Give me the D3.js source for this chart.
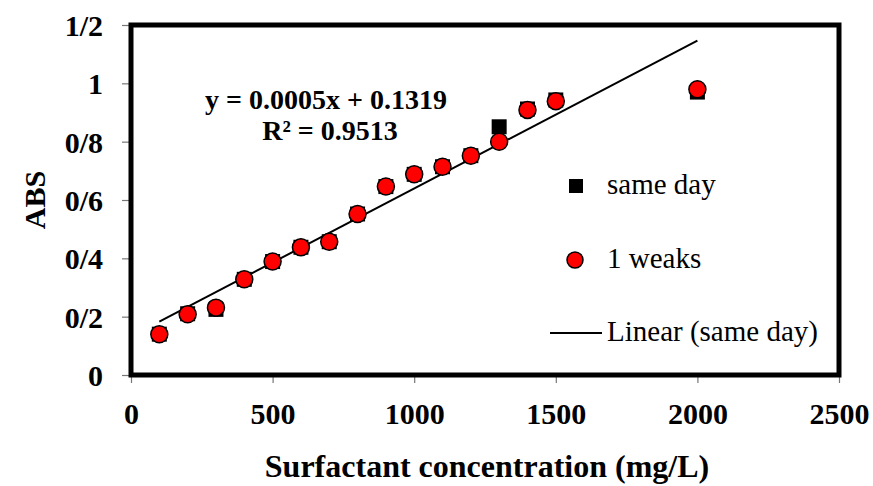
<!DOCTYPE html>
<html>
<head>
<meta charset="utf-8">
<script src="https://cdn.jsdelivr.net/npm/d3@7"></script>
<style>
  body { margin: 0; background: #fff; }
  svg { display: block; font-family: "Times New Roman", "Liberation Serif", serif; }
</style>
</head>
<body>
<div id="chart"></div>
<script>
// concentrations (mg/L)
const concentrations = [100, 200, 300, 400, 500, 600, 700, 800, 900, 1000, 1100, 1200, 1300, 1400, 1500, 2000];
// absorbance, measured the same day
const sameDay = [0.14, 0.21, 0.225, 0.328, 0.389, 0.438, 0.457, 0.552, 0.646, 0.688, 0.714, 0.752, 0.851, 0.912, 0.943, 0.97];
// absorbance, after 1 week
const oneWeek = [0.14, 0.208, 0.231, 0.328, 0.389, 0.438, 0.457, 0.552, 0.646, 0.688, 0.714, 0.752, 0.80, 0.909, 0.939, 0.98];

const xTicks = [0, 500, 1000, 1500, 2000, 2500];
const yTicks = [0, 0.2, 0.4, 0.6, 0.8, 1, 1.2];
const yTickLabels = ["0", "0/2", "0/4", "0/6", "0/8", "1", "1/2"];

const equationLines = ["y = 0.0005x + 0.1319", "R\u00b2 = 0.9513"];
const legendLabels = ["same day", "1 weaks", "Linear (same day)"];

const width = 873;
const height = 486;

function linearFit(xs, ys) {
  const mx = d3.mean(xs);
  const my = d3.mean(ys);
  let sxy = 0, sxx = 0;
  xs.forEach((x, i) => {
    sxy += (x - mx) * (ys[i] - my);
    sxx += (x - mx) * (x - mx);
  });
  const slope = sxy / sxx;
  return { slope, intercept: my - slope * mx };
}

function createChart() {
  const svg = d3
    .select("#chart")
    .append("svg")
    .attr("width", width)
    .attr("height", height);

  const plot = { left: 131, right: 839, top: 25, bottom: 375 };

  const xScale = d3.scaleLinear().domain([0, 2500]).range([plot.left, plot.right]);
  const yScale = d3.scaleLinear().domain([0, 1.2]).range([plot.bottom, plot.top]);

  // axes (ticks only, frame drawn below)
  const xAxis = svg
    .append("g")
    .attr("transform", `translate(0, ${plot.bottom})`)
    .call(
      d3.axisBottom(xScale)
        .tickValues(xTicks)
        .tickSize(8)
        .tickPadding(20)
        .tickFormat(d3.format("d"))
    );

  const yAxis = svg
    .append("g")
    .attr("transform", `translate(${plot.left}, 0)`)
    .call(
      d3.axisLeft(yScale)
        .tickValues(yTicks)
        .tickSize(9)
        .tickPadding(19)
        .tickFormat((d, i) => yTickLabels[i])
    );

  [xAxis, yAxis].forEach((ax) => {
    ax.select(".domain").remove();
    ax.selectAll(".tick line").attr("stroke", "#777").attr("stroke-width", 1.2);
    ax.selectAll(".tick text")
      .attr("fill", "#000")
      .style("font-size", "30px")
      .style("font-weight", "bold")
      .style("font-family", "'Times New Roman', 'Liberation Serif', serif");
  });
  yAxis.selectAll(".tick text").attr("dy", "0.35em");
  xAxis.selectAll(".tick text").attr("dy", "0.71em");

  // plot frame
  svg
    .append("rect")
    .attr("x", plot.left)
    .attr("y", plot.top)
    .attr("width", plot.right - plot.left)
    .attr("height", plot.bottom - plot.top)
    .attr("fill", "none")
    .attr("stroke", "#000")
    .attr("stroke-width", 5);

  // trendline from the same-day series
  const fit = linearFit(concentrations, sameDay);
  const xExtent = d3.extent(concentrations);
  svg
    .append("line")
    .attr("x1", xScale(xExtent[0]))
    .attr("y1", yScale(fit.intercept + fit.slope * xExtent[0]))
    .attr("x2", xScale(xExtent[1]))
    .attr("y2", yScale(fit.intercept + fit.slope * xExtent[1]))
    .attr("stroke", "#000")
    .attr("stroke-width", 2);

  const sq = 15;
  svg
    .append("g")
    .selectAll("rect")
    .data(concentrations)
    .join("rect")
    .attr("x", (d) => xScale(d) - sq / 2)
    .attr("y", (d, i) => yScale(sameDay[i]) - sq / 2)
    .attr("width", sq)
    .attr("height", sq)
    .attr("fill", "#000");

  svg
    .append("g")
    .selectAll("circle")
    .data(concentrations)
    .join("circle")
    .attr("cx", (d) => xScale(d))
    .attr("cy", (d, i) => yScale(oneWeek[i]))
    .attr("r", 8.5)
    .attr("fill", "#ff0000")
    .attr("stroke", "#000")
    .attr("stroke-width", 1.5);

  // trendline equation
  svg
    .append("g")
    .selectAll("text")
    .data(equationLines)
    .join("text")
    .attr("x", (d, i) => (i === 0 ? 326 : 330))
    .attr("y", (d, i) => 108.5 + i * 31)
    .attr("text-anchor", "middle")
    .style("font-size", "28px")
    .style("font-weight", "bold")
    .text((d) => d);

  // legend
  const legend = svg.append("g");
  const legendY = [186, 260, 333];
  legend
    .append("rect")
    .attr("x", 576 - 7)
    .attr("y", legendY[0] - 7)
    .attr("width", 14)
    .attr("height", 14)
    .attr("fill", "#000");
  legend
    .append("circle")
    .attr("cx", 575)
    .attr("cy", legendY[1])
    .attr("r", 8)
    .attr("fill", "#ff0000")
    .attr("stroke", "#000")
    .attr("stroke-width", 1.5);
  legend
    .append("line")
    .attr("x1", 550)
    .attr("x2", 602)
    .attr("y1", legendY[2])
    .attr("y2", legendY[2])
    .attr("stroke", "#000")
    .attr("stroke-width", 2);
  legend
    .selectAll("text")
    .data(legendLabels)
    .join("text")
    .attr("x", 607)
    .attr("y", (d, i) => legendY[i] + 8)
    .style("font-size", "29px")
    .text((d) => d);

  // axis titles
  svg
    .append("text")
    .attr("x", (plot.left + plot.right) / 2 + 2)
    .attr("y", 477)
    .attr("text-anchor", "middle")
    .style("font-size", "32px")
    .style("font-weight", "bold")
    .text("Surfactant concentration (mg/L)");

  svg
    .append("text")
    .attr("transform", `translate(45, ${(plot.top + plot.bottom) / 2}) rotate(-90)`)
    .attr("text-anchor", "middle")
    .style("font-size", "30px")
    .style("font-weight", "bold")
    .text("ABS");
}

createChart();
</script>
</body>
</html>
